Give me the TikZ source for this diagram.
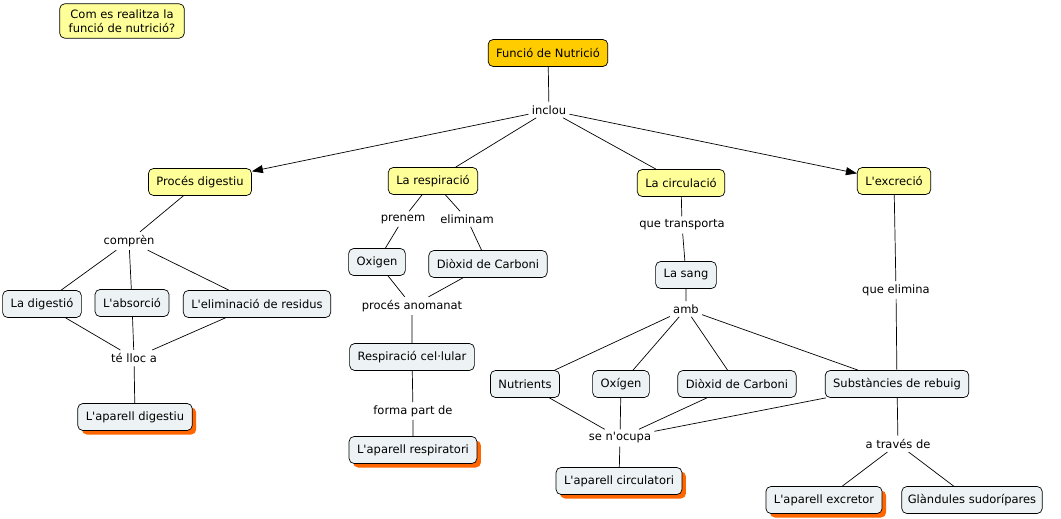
\documentclass[tikz,border=0pt]{standalone}
\usepackage{fontspec}
\newfontfamily\mapfont{DejaVu Sans}
\usetikzlibrary{arrows.meta,shadows}
\definecolor{conceptyellow}{RGB}{255,255,153}
\definecolor{rootorange}{RGB}{255,204,0}
\definecolor{leafgrey}{RGB}{237,243,245}
\definecolor{shadoworange}{RGB}{255,102,0}
\newcommand{\ap}{\textquotesingle}
\tikzset{
  concept/.style={draw, rounded corners=5pt, fill=conceptyellow, font=\mapfont\fontsize{11.5}{13.5}\selectfont, minimum height=27pt, inner xsep=8pt},
  root/.style={concept, fill=rootorange},
  leaf/.style={concept, fill=leafgrey},
  final/.style={leaf, drop shadow={shadow xshift=4pt, shadow yshift=-4pt, fill=shadoworange, opacity=1}},
  linkword/.style={font=\mapfont\fontsize{11.5}{13.5}\selectfont, inner sep=3pt},
  tip/.style={-{Triangle[length=11pt,width=8pt]}}
}
\begin{document}
\begin{tikzpicture}[x=1pt,y=-1pt,line width=0.7pt]
\fill[white] (0,0) rectangle (1061,519);
\useasboundingbox (0,0) rectangle (1061,519);
\node[concept, align=center, inner ysep=6pt, inner xsep=9pt] (question) at (122,21) {Com es realitza la\\funció de nutrició?};
\node[root] (nutricio) at (548,53) {Funció de Nutrició};
\node[linkword] (inclou) at (549,110) {inclou};
\node[concept] (digestiu) at (200,182) {Procés digestiu};
\node[concept] (respiracio) at (433,181) {La respiració};
\node[concept] (circulacio) at (681,183) {La circulació};
\node[concept] (excrecio) at (894,181) {L\ap excreció};
\node[linkword] (compren) at (129,241) {comprèn};
\node[leaf] (digestio) at (42,304) {La digestió};
\node[leaf] (absorcio) at (132,303) {L\ap absorció};
\node[leaf] (eliminacio) at (257,304) {L\ap eliminació de residus};
\node[linkword] (lloc) at (134,358) {té lloc a};
\node[final] (apdigestiu) at (135,417) {L\ap aparell digestiu};
\node[linkword] (prenem) at (403,219) {prenem};
\node[linkword] (eliminam) at (467,219) {eliminam};
\node[leaf] (oxigen) at (377,262) {Oxigen};
\node[leaf] (dioxid) at (488,264) {Diòxid de Carboni};
\node[linkword] (anomanat) at (412,306) {procés anomanat};
\node[leaf] (cellular) at (412,357) {Respiració cel·lular};
\node[linkword] (formapart) at (413,411) {forma part de};
\node[final] (aprespiratori) at (413,450) {L\ap aparell respiratori};
\node[linkword] (transporta) at (682,225) {que transporta};
\node[leaf] (sang) at (686,275) {La sang};
\node[linkword] (amb) at (686,309) {amb};
\node[leaf] (nutrients) at (525,384) {Nutrients};
\node[leaf] (oxigenb) at (621,384) {Oxígen};
\node[leaf] (dioxidb) at (737,384) {Diòxid de Carboni};
\node[leaf] (rebuig) at (897,384) {Substàncies de rebuig};
\node[linkword] (elimina) at (896,290) {que elimina};
\node[linkword] (ocupa) at (620,438) {se n\ap ocupa};
\node[final] (apcirculatori) at (619,481) {L\ap aparell circulatori};
\node[linkword] (traves) at (898,444) {a través de};
\node[final] (apexcretor) at (824,500) {L\ap aparell excretor};
\node[leaf, inner xsep=6pt] (glandules) at (972,500) {Glàndules sudorípares};
\draw (nutricio) -- (inclou);
\draw[tip] (inclou) -- (digestiu);
\draw (inclou) -- (respiracio);
\draw (inclou) -- (circulacio);
\draw[tip] (inclou) -- (excrecio);
\draw (digestiu) -- (compren);
\foreach \n in {digestio,absorcio,eliminacio}
  \draw (compren) -- (\n) (\n) -- (lloc);
\draw (lloc) -- (apdigestiu);
\draw (respiracio) -- (prenem) -- (oxigen);
\draw (respiracio) -- (eliminam) -- (dioxid);
\draw (oxigen) -- (anomanat) -- (dioxid);
\draw (anomanat) -- (cellular) -- (formapart) -- (aprespiratori);
\draw (circulacio) -- (transporta) -- (sang) -- (amb);
\foreach \n in {nutrients,oxigenb,dioxidb,rebuig}
  \draw (amb) -- (\n) (\n) -- (ocupa);
\draw (ocupa) -- (apcirculatori);
\draw (excrecio) -- (elimina) -- (rebuig);
\draw (rebuig) -- (traves);
\draw (traves) -- (apexcretor);
\draw (traves) -- (glandules);
\end{tikzpicture}
\end{document}
